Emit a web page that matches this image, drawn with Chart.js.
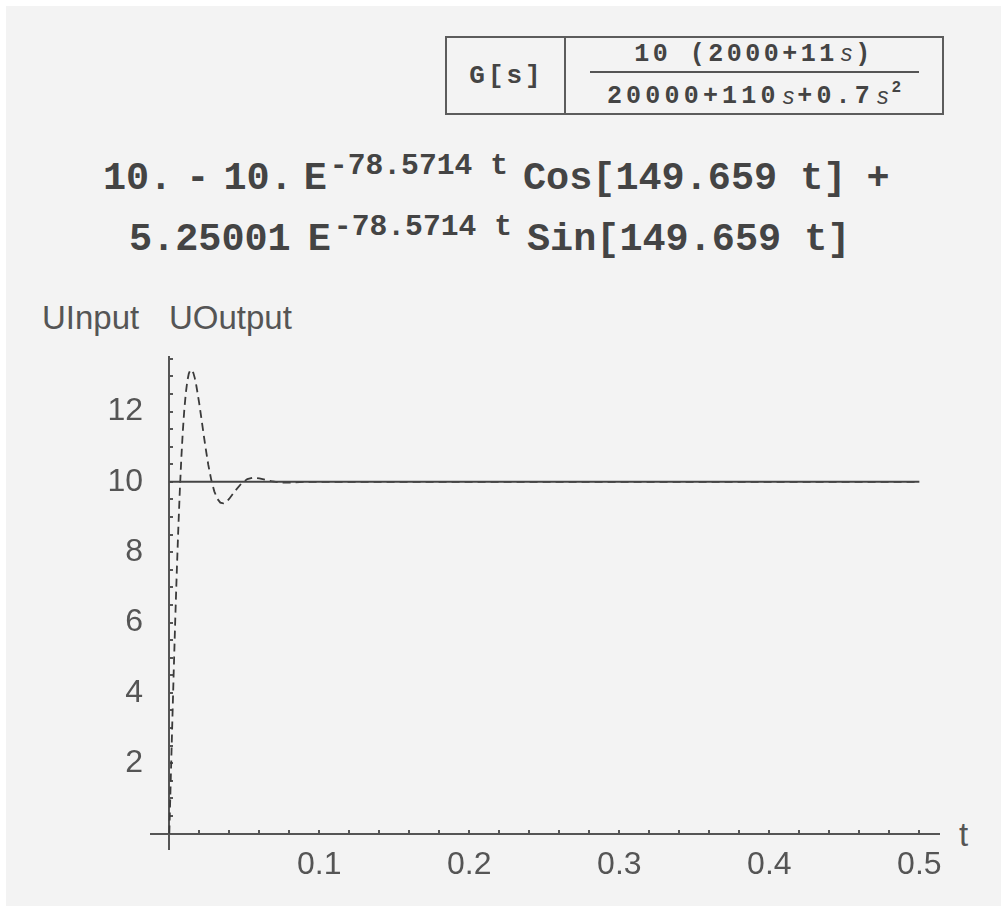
<!DOCTYPE html>
<html>
<head>
<meta charset="utf-8">
<script src="https://cdn.jsdelivr.net/npm/chart.js@4/dist/chart.umd.min.js"></script>
<style>
  html, body { margin: 0; padding: 0; background: #fff; width: 1001px; height: 906px; overflow: hidden; }
  #bg { position: absolute; left: 6px; top: 6px; right: 0; bottom: 0; background: #f3f3f3; }
  #c { position: absolute; left: 0; top: 0; }
  .mono { font-family: "Liberation Mono", "DejaVu Sans Mono", monospace; font-weight: bold; color: #444; }
  .sans { font-family: "Liberation Sans", Arial, sans-serif; color: #555; }

  /* transfer function box */
  #gbox { position: absolute; left: 445px; top: 36px; width: 499px; height: 79px; box-sizing: border-box;
          border: 2px solid #5c5c5c; display: flex; }
  #gcell { width: 115px; border-right: 2px solid #5c5c5c; display: flex; align-items: center; justify-content: center;
           font-size: 26px; letter-spacing: 3px; padding-left: 2px; }
  #fcell { flex: 1; display: flex; flex-direction: column; align-items: center; justify-content: center; font-size: 25px; letter-spacing: 3.5px; }
  #fcell .num { line-height: 24px; padding-bottom: 4px; }
  #fcell .bar { width: 329px; height: 2px; background: #555; }
  #fcell .den { line-height: 24px; padding-top: 5px; letter-spacing: 4.2px; }
  #fcell i { font-family: "Liberation Sans", Arial, sans-serif; font-weight: normal; font-size: 23px; letter-spacing: 0; margin: 0 3px; }
  #fcell sup { font-size: 16px; letter-spacing: 0; position: relative; top: -2px; }

  /* result formula */
  .fline { position: absolute; font-size: 38.5px; line-height: 40px; white-space: pre; }
  .fline span { display: inline-block; }
  .fline .sp { font-size: 29.7px; position: relative; top: -15px; }

  .lbl { position: absolute; font-size: 33px; line-height: 33px; white-space: pre; }
</style>
</head>
<body>
<div id="bg"></div>

<div id="gbox" class="mono">
  <div id="gcell">G[s]</div>
  <div id="fcell">
    <div class="num">10 (2000+11<i>s</i>)</div>
    <div class="bar"></div>
    <div class="den">20000+110<i>s</i>+0.7<i>s</i><sup>2</sup></div>
  </div>
</div>

<div class="fline mono" style="left:103px; top:159px;"><span>10.</span><span style="margin-left:14px">-</span><span style="margin-left:14px">10.</span><span style="margin-left:11px">E</span><span class="sp" style="margin-left:3px">-78.5714 t</span><span style="margin-left:15px">Cos[149.659 t]</span><span style="margin-left:20px">+</span></div>
<div class="fline mono" style="left:129px; top:220px;"><span>5.25001</span><span style="margin-left:17px">E</span><span class="sp" style="margin-left:3px">-78.5714 t</span><span style="margin-left:15px">Sin[149.659 t]</span></div>

<div class="lbl sans" style="left:42px; top:301px;">UInput</div>
<div class="lbl sans" style="left:169px; top:301px;">UOutput</div>
<div class="lbl sans" style="left:959px; top:818px;">t</div>

<canvas id="c" width="1001" height="906"></canvas>

<script>
// ── data ──
// input: step of height 10
const inT = [0, 0.5];
const inU = [10, 10];

// output: step response
const outT = [0, 0.001, 0.002, 0.003, 0.004, 0.005, 0.006, 0.007, 0.008, 0.009, 0.010, 0.011, 0.012, 0.013,
              0.014, 0.015, 0.016, 0.017, 0.018, 0.020, 0.022, 0.024, 0.026, 0.028, 0.030, 0.032, 0.034,
              0.036, 0.038, 0.040, 0.044, 0.048, 0.052, 0.056, 0.060, 0.064, 0.068, 0.072, 0.076, 0.080,
              0.090, 0.100, 0.200, 0.300, 0.400, 0.500];
const outU = [0, 1.58, 3.16, 4.68, 6.13, 7.46, 8.67, 9.74, 10.66, 11.43, 12.05, 12.52, 12.86, 13.08,
              13.18, 13.18, 13.10, 12.95, 12.74, 12.22, 11.62, 11.02, 10.48, 10.05, 9.73, 9.52, 9.41,
              9.39, 9.43, 9.52, 9.75, 9.95, 10.08, 10.12, 10.10, 10.06, 10.02, 9.99, 9.98, 9.98,
              10.0, 10.0, 10.0, 10.0, 10.0, 10.0];

// axis ranges / tick steps (ranges kept off whole multiples of the step so ticks start at 0)
const xMin = -0.0122, xMax = 0.5131, xMinor = 0.02;
const yMin = -0.44, yMax = 13.55, yMinor = 0.5, yMajor = 2;

const axisColor = '#555';
const tickFont = { family: 'Liberation Sans, Arial, sans-serif', size: 32 };

const toXY = (xs, ys) => xs.map((x, i) => ({ x: x, y: ys[i] }));

new Chart(document.getElementById('c'), {
  type: 'line',
  data: {
    datasets: [
      { label: 'UInput', data: toXY(inT, inU), borderColor: '#444', borderWidth: 2,
        pointRadius: 0, tension: 0, yAxisID: 'y' },
      { label: 'UOutput', data: toXY(outT, outU), borderColor: '#3a3a3a', borderWidth: 1.8,
        borderDash: [8, 5], pointRadius: 0, tension: 0, yAxisID: 'y' }
    ]
  },
  options: {
    responsive: false,
    animation: false,
    devicePixelRatio: 1,
    // label column (60px) + padding = chart area left edge at 151
    layout: { padding: { left: 91, right: 62, top: 357, bottom: 57 } },
    plugins: { legend: { display: false }, tooltip: { enabled: false } },
    scales: {
      x: {
        type: 'linear', position: { y: 0 }, min: xMin, max: xMax,
        border: { display: true, color: axisColor, width: 2 },
        grid: { display: true, drawOnChartArea: false, drawTicks: true, tickLength: -5, color: axisColor, lineWidth: 2 },
        ticks: {
          stepSize: xMinor, includeBounds: false, autoSkip: false, maxRotation: 0, padding: 17,
          color: axisColor, font: tickFont,
          callback: v => {
            const k = Math.round(v * 100);
            return (k > 0 && k % 10 === 0) ? String(k / 100) : '';
          }
        }
      },
      y: {
        type: 'linear', position: { x: 0 }, min: yMin, max: yMax,
        border: { display: true, color: axisColor, width: 2 },
        grid: { display: true, drawOnChartArea: false, drawTicks: true, tickLength: -5, color: axisColor, lineWidth: 2 },
        ticks: { display: false, stepSize: yMinor, includeBounds: false, autoSkip: false }
      },
      // labels only, right-aligned just left of the chart area
      yLab: {
        type: 'linear', position: 'left', min: yMin, max: yMax,
        border: { display: false }, grid: { display: false },
        ticks: {
          stepSize: yMajor, includeBounds: false, autoSkip: false, padding: 0,
          color: axisColor, font: tickFont,
          callback: v => (v > 0 ? String(v) : '')
        },
        afterFit: s => { s.width = 60; }
      }
    }
  }
});
</script>
</body>
</html>
